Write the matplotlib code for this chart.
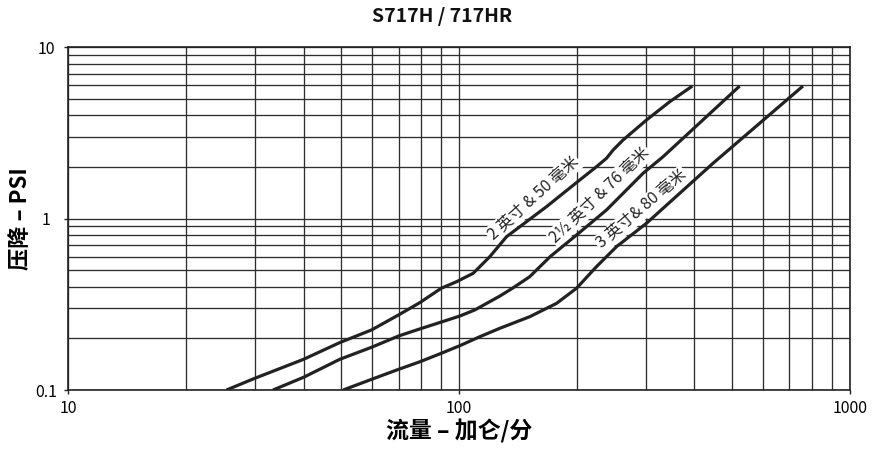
import matplotlib
matplotlib.use("Agg")
import matplotlib.pyplot as plt
from matplotlib.ticker import LogLocator, NullFormatter, FixedLocator

plt.rcParams['font.family'] = ['Noto Sans CJK SC', 'DejaVu Sans']

title = "S717H / 717HR"
xlabel = "流量 – 加仑/分"
ylabel = "压降 – PSI"

# Curve 1: 2 inch & 50 mm
flow_2in = [25.4, 30.0, 40.0, 49.5, 59.7, 70.0, 79.3, 90.0, 98.5, 108.6, 119.8, 132.2,
            143.0, 167.3, 203.5, 224.6, 238.2, 247.7, 262.7, 301.5, 345.9, 395.0]
dp_2in = [0.100, 0.117, 0.151, 0.189, 0.224, 0.274, 0.323, 0.392, 0.428, 0.479, 0.599, 0.783,
          0.896, 1.172, 1.677, 2.005, 2.244, 2.508, 2.869, 3.752, 4.80, 5.92]

# Curve 2: 2.5 inch & 76 mm
flow_25in = [33.4, 40.0, 49.5, 59.7, 70.0, 79.3, 90.0, 100.4, 109.7, 127.1, 137.4, 151.6,
             170.9, 199.7, 238.2, 295.5, 332.5, 522.0]
dp_25in = [0.100, 0.1186, 0.151, 0.1775, 0.2065, 0.227, 0.249, 0.270, 0.293, 0.353, 0.394, 0.458,
           0.599, 0.801, 1.121, 1.835, 2.293, 5.92]

# Curve 3: 3 inch & 80 mm
flow_3in = [50.5, 59.7, 70.0, 79.3, 90.0, 100.4, 113.0, 127.1, 151.6, 177.5, 199.7, 224.6,
            252.7, 301.5, 446.2, 758.0]
dp_3in = [0.100, 0.1154, 0.132, 0.146, 0.1637, 0.1813, 0.2046, 0.229, 0.2676, 0.320, 0.392, 0.524,
          0.685, 0.938, 2.099, 5.92]

labels = ["2 英寸 & 50 毫米", "2½ 英寸 & 76 毫米", "3 英寸& 80 毫米"]
label_pos = [(155.0, 1.31), (229.0, 1.37), (293.5, 1.13)]
label_rot = [42, 43.6, 40.2]

xticks = [10, 100, 1000]
xticklabels = ["10", "100", "1000"]
yticks = [0.1, 1, 10]
yticklabels = ["0.1", "1", "10"]

fig = plt.figure(figsize=(8.82, 4.57), dpi=100)
ax = fig.add_axes([0.0774, 0.1466, 0.8863, 0.7505])
ax.set_xscale('log')
ax.set_yscale('log')
ax.set_xlim(10, 1000)
ax.set_ylim(0.1, 10)

ax.grid(True, which='both', color='#2e2e2e', lw=0.95)
ax.set_axisbelow(True)

for fx, dy in [(flow_2in, dp_2in), (flow_25in, dp_25in), (flow_3in, dp_3in)]:
    ax.plot(fx, dy, color='#222222', lw=2.3, solid_capstyle='butt',
            solid_joinstyle='round', zorder=3)

for txt, (x, y), r in zip(labels, label_pos, label_rot):
    ax.text(x, y, txt, rotation=r, ha='center', va='center', fontsize=11.5,
            color='#222222', zorder=2.5, rotation_mode='anchor',
            bbox=dict(facecolor='white', edgecolor='none', pad=1.0))

ax.xaxis.set_major_locator(FixedLocator(xticks))
ax.set_xticklabels(xticklabels)
ax.yaxis.set_major_locator(FixedLocator(yticks))
ax.set_yticklabels(yticklabels, ha='center')
ax.xaxis.set_minor_locator(LogLocator(base=10, subs=range(2, 10)))
ax.yaxis.set_minor_locator(LogLocator(base=10, subs=range(2, 10)))
ax.xaxis.set_minor_formatter(NullFormatter())
ax.yaxis.set_minor_formatter(NullFormatter())
ax.tick_params(which='minor', length=0)
ax.tick_params(which='major', length=3, width=1, labelsize=11.5, color='#222222')
ax.tick_params(axis='x', which='major', pad=4)
ax.tick_params(axis='y', which='major', pad=13)

for s in ax.spines.values():
    s.set_color('#222222')
    s.set_linewidth(1.2)

fig.text(442.5 / 882, 1 - 17 / 457, title, fontsize=14, fontweight='bold',
         ha='center', va='center', color='#111111')
ax.set_xlabel(xlabel, fontsize=16.5, fontweight='bold', labelpad=2)
ax.set_ylabel(ylabel, fontsize=16, fontweight='bold', labelpad=2)

fig.savefig("out.png", dpi=100)
